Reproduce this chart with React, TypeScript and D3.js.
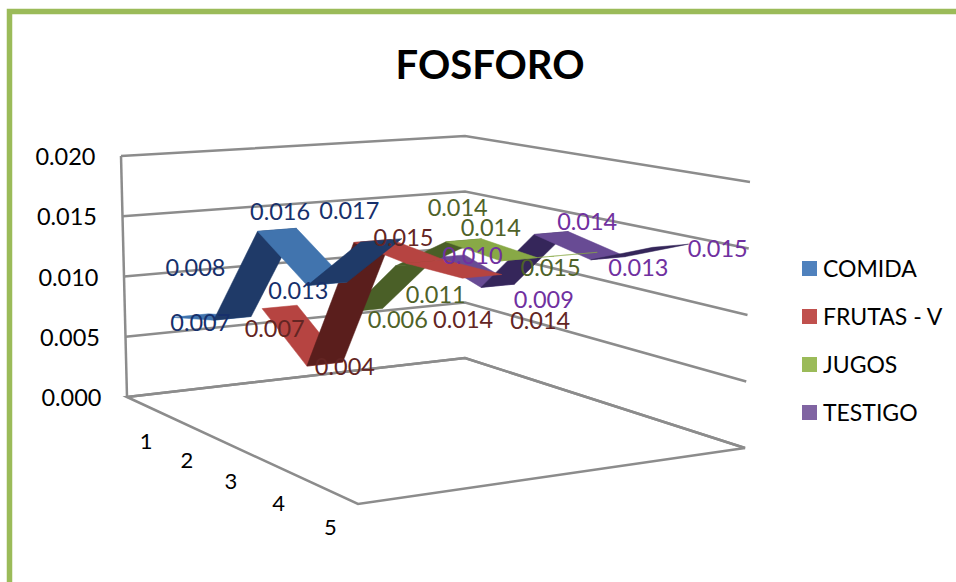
import React from "react";
import * as d3 from "d3";

const categories = ["1", "2", "3", "4", "5"];
const seriesNames = ["COMIDA", "FRUTAS - V", "JUGOS", "TESTIGO"];
const comida = [0.007, 0.008, 0.016, 0.013, 0.0172];
const frutas = [0.007, 0.00355, 0.01455, 0.014, 0.014];
const jugos = [0.006, 0.011, 0.014, 0.01355, 0.015];
const testigo = [0.01, 0.00855, 0.014, 0.013, 0.015];
const seriesValues = [comida, frutas, jugos, testigo];
const yTicks = [0, 0.005, 0.01, 0.015, 0.02];

const lightFill = ["#4174AE", "#B64441", "#88A946", "#684B94"];
const darkFill = ["#1F3A68", "#5A1E1C", "#4A5F27", "#35265A"];
const legendFill = ["#4F81BD", "#C0504D", "#9BBB59", "#8064A2"];
const labelFill = ["#17306B", "#632523", "#4F6228", "#7030A0"];

type P = [number, number];
function quadMap(p0: P, p1: P, p2: P, p3: P) {
  const dx1 = p1[0] - p2[0], dx2 = p3[0] - p2[0], sx = p0[0] - p1[0] + p2[0] - p3[0];
  const dy1 = p1[1] - p2[1], dy2 = p3[1] - p2[1], sy = p0[1] - p1[1] + p2[1] - p3[1];
  const den = dx1 * dy2 - dx2 * dy1;
  const g = (sx * dy2 - dx2 * sy) / den, h = (dx1 * sy - sx * dy1) / den;
  const a = p1[0] - p0[0] + g * p1[0], b = p3[0] - p0[0] + h * p3[0], c = p0[0];
  const d = p1[1] - p0[1] + g * p1[1], e = p3[1] - p0[1] + h * p3[1], f = p0[1];
  return (u: number, v: number): P => {
    const w = g * u + h * v + 1;
    return [(a * u + b * v + c) / w, (d * u + e * v + f) / w];
  };
}

// floor and ceiling of the 3D box as seen on screen
const floorMap = quadMap([127, 397], [358, 504], [745, 448], [465, 358]);
const topMap = quadMap([121, 156], [357, 211], [750, 182], [465, 136]);
const yFrac = d3.scaleLinear().domain([0, 0.02]).range([0, 1]);
const tScale = d3.scalePoint<string>().domain(categories).range([0, 1]).padding(0.5);
const sScale = d3.scaleBand<string>().domain(seriesNames).range([0, 1]);
const halfDepth = sScale.bandwidth() * 0.2;

function project(t: number, s: number, v: number): P {
  const a = floorMap(t, s), b = topMap(t, s), k = yFrac(v);
  return [a[0] + (b[0] - a[0]) * k, a[1] + (b[1] - a[1]) * k];
}
const closed = d3.line<P>().curve(d3.curveLinearClosed);
const open = d3.line<P>();

const labelNudge: P[][] = [
  [[10, 6], [-37, -51], [3, -19], [-29, 6], [-32, -30]],
  [[-5, 21], [20, 2], [31, -4], [38, 57], [58, 44]],
  [[32, 9], [23, 30], [-6, -33], [-28, -32], [-28, 13]],
  [[24, -1], [46, 13], [36, -12], [30, 9], [47, 2]],
];

const font = "Lato, Carlito, sans-serif";

export default function App() {
  const sections: React.ReactNode[] = [];
  [...seriesNames].reverse().forEach((name) => {
    const si = seriesNames.indexOf(name);
    const sc = sScale(name)! + sScale.bandwidth() / 2;
    const vals = seriesValues[si];
    for (let i = 0; i < vals.length - 1; i++) {
      const t0 = tScale(categories[i])!, t1 = tScale(categories[i + 1])!;
      const q: P[] = [
        project(t0, sc - halfDepth, vals[i]),
        project(t1, sc - halfDepth, vals[i + 1]),
        project(t1, sc + halfDepth, vals[i + 1]),
        project(t0, sc + halfDepth, vals[i]),
      ];
      const upFacing = d3.polygonArea(q) > 0;
      const c = upFacing ? lightFill[si] : darkFill[si];
      sections.push(<path key={name + i} d={closed(q)!} fill={c} stroke={c} strokeWidth={0.5} />);
    }
  });
  const wall = (v: number): P[] => [project(0, 0, v), project(0, 1, v), project(1, 1, v)];
  return (
    <svg width={956} height={582} style={{ position: "absolute", left: 0, top: 0, background: "#fff", fontFamily: font }}>
      <rect x={9.5} y={11.5} width={1000} height={700} fill="none" stroke="#9BBB59" strokeWidth={5.5} />
      <text x={490} y={64} fontSize={40} fontWeight={700} textAnchor="middle" dominantBaseline="central" fill="#000">FOSFORO</text>
      <g fill="none" stroke="#8C8C8C" strokeWidth={2.5}>
        {yTicks.map((v) => <path key={v} d={open(wall(v))!} />)}
        <path d={open([project(0, 0, 0), project(0, 0, 0.02)])!} />
        <path d={closed([project(0, 0, 0), project(1, 0, 0), project(1, 1, 0), project(0, 1, 0)])!} />
      </g>
      {yTicks.map((v) => {
        const p = project(0, 0, v);
        return <text key={v} x={p[0] - 25.5} y={p[1]} fontSize={23.5} textAnchor="end" dominantBaseline="central">{d3.format(".3f")(v)}</text>;
      })}
      {categories.map((c) => {
        const p = project(tScale(c)!, 0, 0);
        return <text key={c} x={p[0]} y={p[1] + 35} fontSize={22} textAnchor="middle" dominantBaseline="central">{c}</text>;
      })}
      {sections}
      {seriesValues.map((vals, si) =>
        vals.map((v, i) => {
          const sc = sScale(seriesNames[si])! + sScale.bandwidth() / 2;
          const p = project(tScale(categories[i])!, sc, v);
          const n = labelNudge[si][i];
          return <text key={si + "-" + i} x={p[0] + n[0]} y={p[1] + n[1]} fontSize={23.5} fill={labelFill[si]} textAnchor="middle" dominantBaseline="central">{d3.format(".3f")(v)}</text>;
        })
      )}
      {seriesNames.map((name, i) => (
        <g key={name} transform={`translate(802,${261 + i * 48})`}>
          <rect width={15} height={15} fill={legendFill[i]} />
          <text x={21} y={7} fontSize={23} dominantBaseline="central">{name}</text>
        </g>
      ))}
    </svg>
  );
}
